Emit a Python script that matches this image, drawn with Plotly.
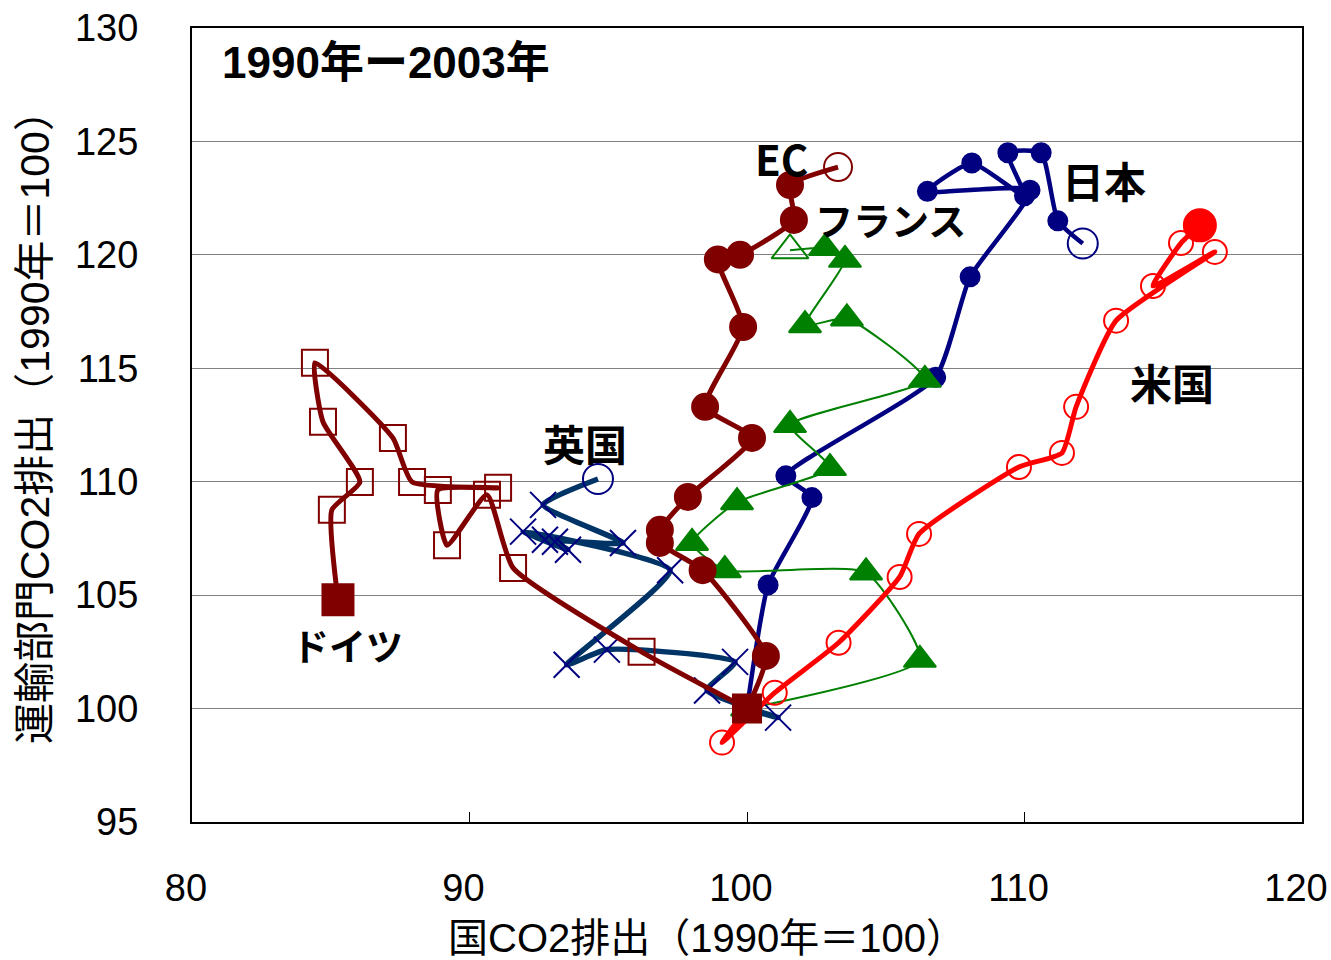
import plotly.graph_objects as go

# ---------------- data (national CO2 index, transport CO2 index; 1990..2003) -------------
years = list(range(1990, 2004))

ger_x = [100, 96.2, 91.57, 90.63, 89.19, 88.86, 91.03, 87.93, 87.24, 84.43, 84.72, 86.05, 85.04, 85.26]
ger_y = [100, 102.5, 106.2, 109.42, 107.2, 109.64, 109.73, 109.99, 111.93, 115.24, 112.64, 109.99, 108.76, 104.8]

uk_x = [100, 101.12, 98.56, 99.57, 94.95, 93.5, 97.23, 91.93, 93.55, 93.08, 92.72, 95.53, 92.65, 94.63]
uk_y = [100, 99.6, 100.8, 102.06, 102.6, 101.93, 106.1, 107.8, 107.0, 107.35, 107.44, 107.3, 108.98, 110.12]

ec_x = [100, 100.68, 98.4, 96.86, 96.86, 97.87, 100.18, 98.49, 99.86, 98.95, 99.75, 101.69, 101.55, 103.28]
ec_y = [100, 102.32, 106.1, 107.3, 107.88, 109.33, 111.93, 113.3, 116.82, 119.8, 120.0, 121.54, 123.08, 123.87]

fr_x = [100, 106.23, 104.29, 99.2, 98.02, 99.64, 102.99, 101.55, 106.41, 103.6, 102.09, 103.53, 102.81, 101.55]
fr_y = [100, 102.15, 106.0, 106.1, 107.3, 109.1, 110.6, 112.5, 114.49, 117.2, 116.9, 119.78, 120.3, 120.2]

jp_x = [100, 100.76, 102.34, 101.4, 106.8, 108.04, 110.2, 106.5, 108.1, 110.0, 109.4, 110.6, 111.2, 112.1]
jp_y = [100, 105.45, 109.3, 110.26, 114.6, 119.03, 122.85, 122.8, 124.05, 122.6, 124.5, 124.5, 121.5, 120.5]

us_x = [100, 99.1, 101.0, 103.3, 105.5, 106.2, 109.8, 111.35, 111.86, 113.3, 116.86, 114.63, 115.64, 116.32]
us_y = [100, 98.5, 100.7, 102.9, 105.8, 107.7, 110.65, 111.27, 113.3, 117.1, 120.13, 118.63, 120.52, 121.3]

x_ticks = [80, 90, 100, 110, 120]
y_ticks = [95, 100, 105, 110, 115, 120, 125, 130]

series_labels = ["EC", "フランス", "日本", "米国", "英国", "ドイツ"]
period_label = "1990年ー2003年"
x_title = "国CO2排出（1990年＝100）"
y_title = "運輸部門CO2排出（1990年＝100）"

# ---------------- styling ----------------
LAT = "Liberation Sans, Arial, Noto Sans CJK JP, sans-serif"
JP = "Noto Sans CJK JP, sans-serif"
N = len(years)

fig = go.Figure()


def add(xs, ys, lcolor, lw, mcolor, symbols, sizes, mlw):
    fig.add_trace(go.Scatter(
        x=xs, y=ys, mode="lines+markers", showlegend=False,
        line=dict(color=lcolor, width=lw, shape="spline", smoothing=0.5),
        marker=dict(symbol=symbols, size=sizes, color=mcolor, opacity=1,
                    line=dict(color=mcolor, width=mlw)),
    ))


# Japan
add(jp_x, jp_y, "#000080", 4.5, "#000080",
    ["circle"] * (N - 1) + ["circle-open"], [19] * (N - 1) + [30], 2)
# France
add(fr_x, fr_y, "#008000", 2, "#008000",
    ["triangle-up"] * (N - 1) + ["triangle-up-open"], [28] * (N - 1) + [32], 2)
# UK
add(uk_x, uk_y, "#003366", 5.5, "#000080",
    ["x-thin"] * (N - 1) + ["circle-open"], [26] * (N - 1) + [30], 2)
# EC
add(ec_x, ec_y, "#800000", 5, "#800000",
    ["circle"] * (N - 1) + ["circle-open"], [26] * (N - 1) + [28], 2)
# US
add(us_x, us_y, "#FF0000", 5, "#FF0000",
    ["circle-open"] * (N - 1) + ["circle"], [24] * (N - 1) + [32], 2)
# Germany
add(ger_x, ger_y, "#800000", 5, "#800000",
    ["square"] + ["square-open"] * (N - 2) + ["square"], [28] + [26] * (N - 2) + [31], 2)

label_pos = [(101.23, 124.27), (105.16, 121.6), (112.87, 123.3),
             (115.31, 114.4), (94.16, 111.75), (85.62, 102.8)]
label_size = [42, 38, 42, 42, 42, 37]
ann = []
for txt, (ax, ay), sz in zip(series_labels, label_pos, label_size):
    ann.append(dict(x=ax, y=ay, xref="x", yref="y", text=txt, showarrow=False,
                    font=dict(family=JP, size=sz, color="black", weight="bold")))
ann.append(dict(x=81.0, y=128.5, xref="x", yref="y", text=period_label, showarrow=False,
                xanchor="left", yanchor="middle",
                font=dict(family=LAT, size=44, color="black", weight="bold")))
ann.append(dict(x=(707 - 192) / 1110, y=(822 - 938) / 794, xref="paper", yref="paper",
                xanchor="center", yanchor="middle",
                text=x_title, showarrow=False,
                font=dict(family=LAT, size=40, color="black")))
ann.append(dict(x=(35 - 192) / 1110, y=(822 - 417) / 794, xref="paper", yref="paper",
                xanchor="center", yanchor="middle",
                text=y_title, showarrow=False, textangle=-90,
                font=dict(family=LAT, size=41, color="black")))

fig.update_layout(
    width=1331, height=960,
    margin=dict(l=192, r=29, t=28, b=138, autoexpand=False),
    paper_bgcolor="white", plot_bgcolor="white",
    annotations=ann,
    xaxis=dict(range=[80, 120], tickvals=x_ticks, showgrid=False, zeroline=False,
               automargin=False,
               showline=True, linecolor="black", linewidth=2, mirror=True,
               ticks="inside", ticklen=10, tickcolor="black", tickwidth=1,
               ticklabelstandoff=31, ticklabelshift=-6, ticklabeloverflow="allow",
               tickfont=dict(family=LAT, size=38, color="black")),
    yaxis=dict(range=[95, 130], tickvals=y_ticks, showgrid=True, gridcolor="#808080",
               gridwidth=1, zeroline=False, automargin=False,
               showline=True, linecolor="black", linewidth=2, mirror=True,
               ticks="", ticklabelstandoff=44, ticklabeloverflow="allow",
               tickfont=dict(family=LAT, size=38, color="black")),
)

fig.write_html("out.html", config={"displayModeBar": False},
               post_script="document.body.style.margin='0';document.body.style.overflow='hidden';")
